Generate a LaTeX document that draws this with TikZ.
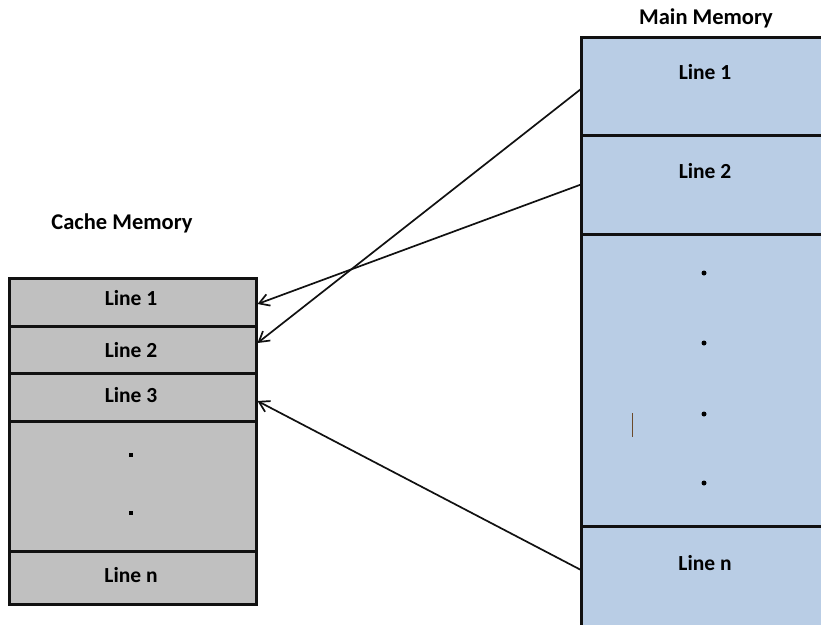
\documentclass[tikz,border=0pt]{standalone}
\usepackage{fontspec}
\setmainfont{Carlito}
\usetikzlibrary{arrows.meta}
\definecolor{cachegray}{HTML}{C0C0C0}
\definecolor{memblue}{HTML}{B9CDE5}
\definecolor{edge}{HTML}{111111}
\definecolor{cursorbrown}{HTML}{6B4A2A}
\tikzset{
  cachecell/.style={draw=edge, line width=3pt, fill=cachegray, minimum width=247pt, inner sep=0pt, outer sep=0pt},
  memcell/.style={draw=edge, line width=3pt, fill=memblue, minimum width=250pt, inner sep=0pt, outer sep=0pt},
  title/.style={font=\fontsize{22.5}{26}\selectfont\bfseries, inner sep=0pt},
  celltext/.style={font=\fontsize{21.5}{25}\selectfont\bfseries, inner sep=0pt},
  link/.style={draw=edge, line width=1.7pt, -{Straight Barb[length=10pt,width=12pt,line width=1.7pt]}},
  bigdot/.style={circle, fill=black, inner sep=0pt, minimum size=5pt},
  smalldot/.style={rectangle, fill=black, inner sep=0pt, minimum size=3.2pt}
}
\begin{document}
\begin{tikzpicture}[x=1pt,y=-1pt]
\clip (0,0) rectangle (821,624);
\fill[white] (0,0) rectangle (821,624);
% titles
\node[title] (ctitle) at (122,223) {Cache Memory};
\node[title] (mtitle) at (706,18) {Main Memory};
% cache cells
\node[cachecell, minimum height=48pt] (c1) at (132.5,302) {};
\node[cachecell, minimum height=47pt] (c2) at (132.5,349.5) {};
\node[cachecell, minimum height=48pt] (c3) at (132.5,397) {};
\node[cachecell, minimum height=130pt] (cd) at (132.5,486.5) {};
\node[cachecell, minimum height=53pt] (cn) at (132.5,578) {};
\node[celltext] (c1t) at (131,298) {Line 1};
\node[celltext] (c2t) at (131,350) {Line 2};
\node[celltext] (c3t) at (131,395) {Line 3};
\node[celltext] (cnt) at (131,575) {Line n};
\node[smalldot] (cdot1) at (131,455) {};
\node[smalldot] (cdot2) at (131,513) {};
% main memory cells
\node[memcell, minimum height=98pt] (m1) at (706,86) {};
\node[memcell, minimum height=99pt] (m2) at (706,184.5) {};
\node[memcell, minimum height=292pt] (md) at (706,380) {};
\node[memcell, minimum height=120pt] (mn) at (706,586) {};
\node[celltext] (m1t) at (705,72) {Line 1};
\node[celltext] (m2t) at (705,171) {Line 2};
\node[celltext] (mnt) at (705,563) {Line n};
\node[bigdot] (mdot1) at (704,273) {};
\node[bigdot] (mdot2) at (704,343) {};
\node[bigdot] (mdot3) at (704,414) {};
\node[bigdot] (mdot4) at (704,483) {};
\draw[cursorbrown, line width=1pt] (632,413) -- (632,437);
% connectors
\draw[link] ([yshift=-3pt]m1.west) -- ([xshift=1.5pt,yshift=6.5pt]c2.east);
\draw[link] (m2.west) -- ([xshift=1.5pt,yshift=-2pt]c1.east);
\draw[link] ([yshift=-44pt]mn.north west) -- ([xshift=1.5pt,yshift=-4pt]c3.east);
\end{tikzpicture}
\end{document}
